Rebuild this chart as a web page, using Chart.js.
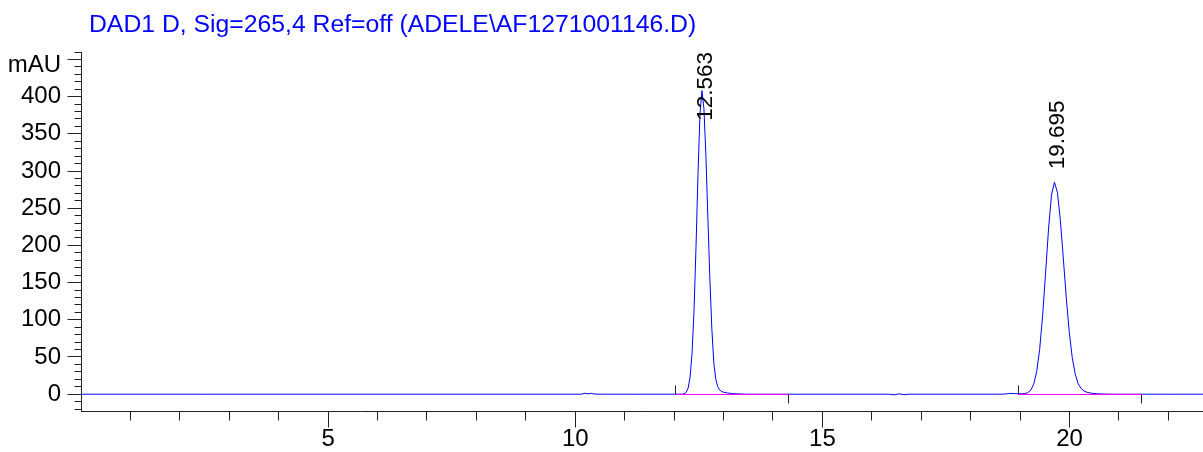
<!DOCTYPE html>
<html>
<head>
<meta charset="utf-8">
<title>DAD1 D chromatogram</title>
<script src="https://cdn.jsdelivr.net/npm/chart.js@4.4.1/dist/chart.umd.min.js"></script>
<style>
  html, body { margin: 0; padding: 0; background: #ffffff; }
  canvas { display: block; }
</style>
</head>
<body>
<canvas id="chrom" width="1203" height="452" style="width:1203px;height:452px"></canvas>
<script>
// ---- signal header and axis unit ----
const signalTitle = 'DAD1 D, Sig=265,4 Ref=off (ADELE\\AF1271001146.D)';
const yUnit = 'mAU';

// ---- detector trace: retention time (min) and absorbance (mAU) ----
const times = [
  0, 2.5, 5, 7.5, 10.12, 10.2, 10.26, 10.32, 10.38, 10.46, 11.2, 12.0,
  12.163, 12.203, 12.243, 12.283, 12.323, 12.363, 12.403, 12.443, 12.483, 12.523,
  12.563,
  12.603, 12.643, 12.683, 12.723, 12.763, 12.803, 12.843, 12.883, 12.923, 12.963,
  13.003, 13.083, 13.163, 13.283, 13.463,
  14.5, 16.35, 16.45, 16.55, 16.65, 16.75, 18.65, 18.78, 18.9,
  19.035, 19.095, 19.155, 19.215, 19.275, 19.335, 19.395, 19.455, 19.515, 19.575, 19.635,
  19.695,
  19.755, 19.815, 19.875, 19.935, 19.995, 20.055, 20.115, 20.175, 20.235, 20.295,
  20.355, 20.445, 20.545, 20.695, 20.895,
  22.0, 22.7
];
const absorbance = [
  0, 0, 0, 0, 0, 1.3, 0.4, 1.2, 0.3, 0, 0, 0,
  0.1, 0.6, 2.4, 8.1, 22.9, 55.2, 113.4, 198.6, 296.3, 376.6,
  408,
  384, 320, 237, 155, 88, 42, 20, 10, 5.5, 3.6,
  2.6, 1.6, 0.9, 0.4, 0,
  0, 0, -0.9, 0.5, -0.7, 0, 0, 0.9, 0.8,
  0.5, 0.9, 2.0, 5.3, 13.5, 30.3, 60.1, 105.2, 162.6, 222.1, 267.9,
  285,
  271.1, 233.4, 181.9, 128.3, 83, 49, 27, 14, 7.5, 4.2,
  2.5, 1.3, 0.6, 0.2, 0,
  0, 0
];

// ---- integration results ----
const peakTimes = [12.563, 19.695];
const peakLabels = ['12.563', '19.695'];
const baselineStart = [12.02, 18.96];
const baselineEnd = [14.32, 21.46];

// ---- axis ticks ----
const xTickValues = [5, 10, 15, 20];
const xTickLabels = ['5', '10', '15', '20'];
const yTickValues = [0, 50, 100, 150, 200, 250, 300, 350, 400];
const yTickLabels = ['0', '50', '100', '150', '200', '250', '300', '350', '400'];
const yUnitValue = 450;

const FONT = '"Liberation Sans", Arial, Helvetica, sans-serif';
Chart.defaults.font.family = FONT;
Chart.defaults.color = '#000000';

const trace = times.map((t, i) => ({ x: t, y: absorbance[i] }));

// tick marks, integration baselines, event marks, retention time labels, header
const chromDecor = {
  id: 'chromDecor',
  afterDatasetsDraw(chart) {
    const { ctx, chartArea, scales: { x, y } } = chart;
    const y0 = Math.round(y.getPixelForValue(0) - 0.5) + 0.5;
    ctx.save();
    ctx.lineWidth = 1;

    ctx.strokeStyle = '#ff00ff';
    for (let i = 0; i < baselineStart.length; i++) {
      ctx.beginPath();
      ctx.moveTo(x.getPixelForValue(baselineStart[i]), y0);
      ctx.lineTo(x.getPixelForValue(baselineEnd[i]), y0);
      ctx.stroke();
    }

    ctx.strokeStyle = '#222222';
    for (let i = 0; i < baselineStart.length; i++) {
      const xs = Math.round(x.getPixelForValue(baselineStart[i]) - 0.5) + 0.5;
      ctx.beginPath(); ctx.moveTo(xs, y0); ctx.lineTo(xs, y0 - 9); ctx.stroke();
      const xe = Math.round(x.getPixelForValue(baselineEnd[i]) - 0.5) + 0.5;
      ctx.beginPath(); ctx.moveTo(xe, y0); ctx.lineTo(xe, y0 + 9); ctx.stroke();
    }

    ctx.fillStyle = '#000000';
    ctx.font = '22.5px ' + FONT;
    for (let i = 0; i < peakTimes.length; i++) {
      const idx = times.indexOf(peakTimes[i]);
      const px = x.getPixelForValue(peakTimes[i]);
      const apex = y.getPixelForValue(absorbance[idx]);
      const w = ctx.measureText(peakLabels[i]).width;
      let bottom = apex - 13;
      if (bottom - w < chartArea.top) bottom = chartArea.top + w;
      ctx.save();
      ctx.translate(px + 10, bottom);
      ctx.rotate(-Math.PI / 2);
      ctx.textAlign = 'left';
      ctx.textBaseline = 'alphabetic';
      ctx.fillText(peakLabels[i], 0, 0);
      ctx.restore();
    }
    ctx.restore();
  },
  afterDraw(chart) {
    const { ctx, chartArea, scales: { x, y } } = chart;
    const ax = Math.round(chartArea.left - 0.5) + 0.5;
    const ay = Math.round(chartArea.bottom - 0.5) + 0.5;
    ctx.save();
    ctx.strokeStyle = '#222222';
    ctx.lineWidth = 1;

    // y axis: minor every 10, major every 50
    for (let v = -20; v <= 460; v += 10) {
      const py = Math.round(y.getPixelForValue(v) - 0.5) + 0.5;
      const len = v % 50 === 0 ? 14 : 7;
      ctx.beginPath(); ctx.moveTo(ax - len, py); ctx.lineTo(ax, py); ctx.stroke();
    }
    // x axis: minor every minute, major every 5
    for (let t = 1; t <= 22; t += 1) {
      const px = Math.round(x.getPixelForValue(t) - 0.5) + 0.5;
      const len = t % 5 === 0 ? 16 : 9;
      ctx.beginPath(); ctx.moveTo(px, ay); ctx.lineTo(px, ay + len); ctx.stroke();
    }

    ctx.fillStyle = '#000000';
    ctx.font = '24px ' + FONT;
    ctx.textAlign = 'right';
    ctx.textBaseline = 'middle';
    ctx.fillText(yUnit, chartArea.left - 20, y.getPixelForValue(yUnitValue) + 6);

    ctx.fillStyle = '#0000ff';
    ctx.font = '24.75px ' + FONT;
    ctx.textAlign = 'left';
    ctx.textBaseline = 'alphabetic';
    ctx.fillText(signalTitle, 89, 32);
    ctx.restore();
  }
};

new Chart(document.getElementById('chrom'), {
  type: 'line',
  data: {
    datasets: [{
      data: trace,
      borderColor: '#0000ff',
      borderWidth: 1,
      pointRadius: 0,
      tension: 0,
      fill: false
    }]
  },
  options: {
    responsive: false,
    devicePixelRatio: 1,
    animation: false,
    events: [],
    parsing: false,
    layout: { padding: { top: 52, left: 0, right: 0, bottom: 0 } },
    plugins: {
      legend: { display: false },
      tooltip: { enabled: false },
      title: { display: false }
    },
    scales: {
      x: {
        type: 'linear',
        min: 0,
        max: 22.7,
        grid: { display: false, drawTicks: false },
        border: { display: true, color: '#222222', width: 1 },
        afterFit(scale) { scale.height = 41; },
        afterBuildTicks(scale) { scale.ticks = xTickValues.map(v => ({ value: v })); },
        ticks: {
          autoSkip: false,
          maxRotation: 0,
          padding: 14,
          font: { size: 24 },
          color: '#000000',
          callback: (v) => xTickLabels[xTickValues.indexOf(v)]
        }
      },
      y: {
        type: 'linear',
        min: -22.6,
        max: 460,
        grid: { display: false, drawTicks: false },
        border: { display: true, color: '#222222', width: 1 },
        afterFit(scale) { scale.width = 81; },
        afterBuildTicks(scale) { scale.ticks = yTickValues.map(v => ({ value: v })); },
        ticks: {
          autoSkip: false,
          padding: 20,
          font: { size: 24 },
          color: '#000000',
          callback: (v) => yTickLabels[yTickValues.indexOf(v)]
        }
      }
    }
  },
  plugins: [chromDecor]
});
</script>
</body>
</html>
